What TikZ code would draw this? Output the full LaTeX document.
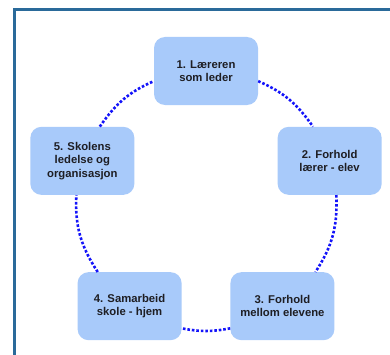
\documentclass[tikz,border=0pt]{standalone}
\usepackage{fontspec}
\setmainfont{Liberation Sans}
\usepackage{tikz}

\definecolor{framecol}{RGB}{42,106,154}
\definecolor{boxcol}{RGB}{168,202,250}
\definecolor{dotcol}{RGB}{20,20,250}
\definecolor{textcol}{RGB}{30,30,35}

\begin{document}
\begin{tikzpicture}[x=1pt,y=1pt,
    box/.style={fill=boxcol, rounded corners=11pt, minimum width=104pt, minimum height=68pt,
        align=center, text=textcol, font=\fontsize{11.3}{13.3}\selectfont\bfseries},
    link/.style={draw=dotcol, line width=2.6pt, dash pattern=on 2.6pt off 1.9pt}]
            \clip (0,0) rectangle (390,354);
            \fill[white] (0,0) rectangle (390,354);
            \draw[framecol, line width=2.6pt] (14.2,344.5) rectangle (420,-20);
            \begin{scope}[shift={(206,153)}]
                % the five boxes round the ring
                \node[box] (b1) at (90:130) {1. Læreren\\som leder};
                \node[box] (b2) at (18:130) {2. Forhold\\lærer - elev};
                \node[box] (b3) at (-54:130) {3. Forhold\\mellom elevene};
                \node[box] (b4) at (-126:130) {4. Samarbeid\\skole - hjem};
                \node[box] (b5) at (162:130) {5. Skolens\\ledelse og\\organisasjon};
                % dotted ring pieces, leaving each box where the ring crosses its edge
                \draw[link] (b1.-11.8) to[out=-23.6, in=124.8] (b2.116.4);
                \draw[link] (b2.-79.6) to[out=-87.3, in=56.8] (b3.46.4);
                \draw[link] (b3.203.4) to[out=190.8, in=-10.8] (b4.-23.4);
                \draw[link] (b4.133.6) to[out=123.2, in=-92.7] (b5.-100.4);
                \draw[link] (b5.63.6) to[out=55.2, in=203.6] (b1.191.8);
            \end{scope}
        \end{tikzpicture}
\end{document}
